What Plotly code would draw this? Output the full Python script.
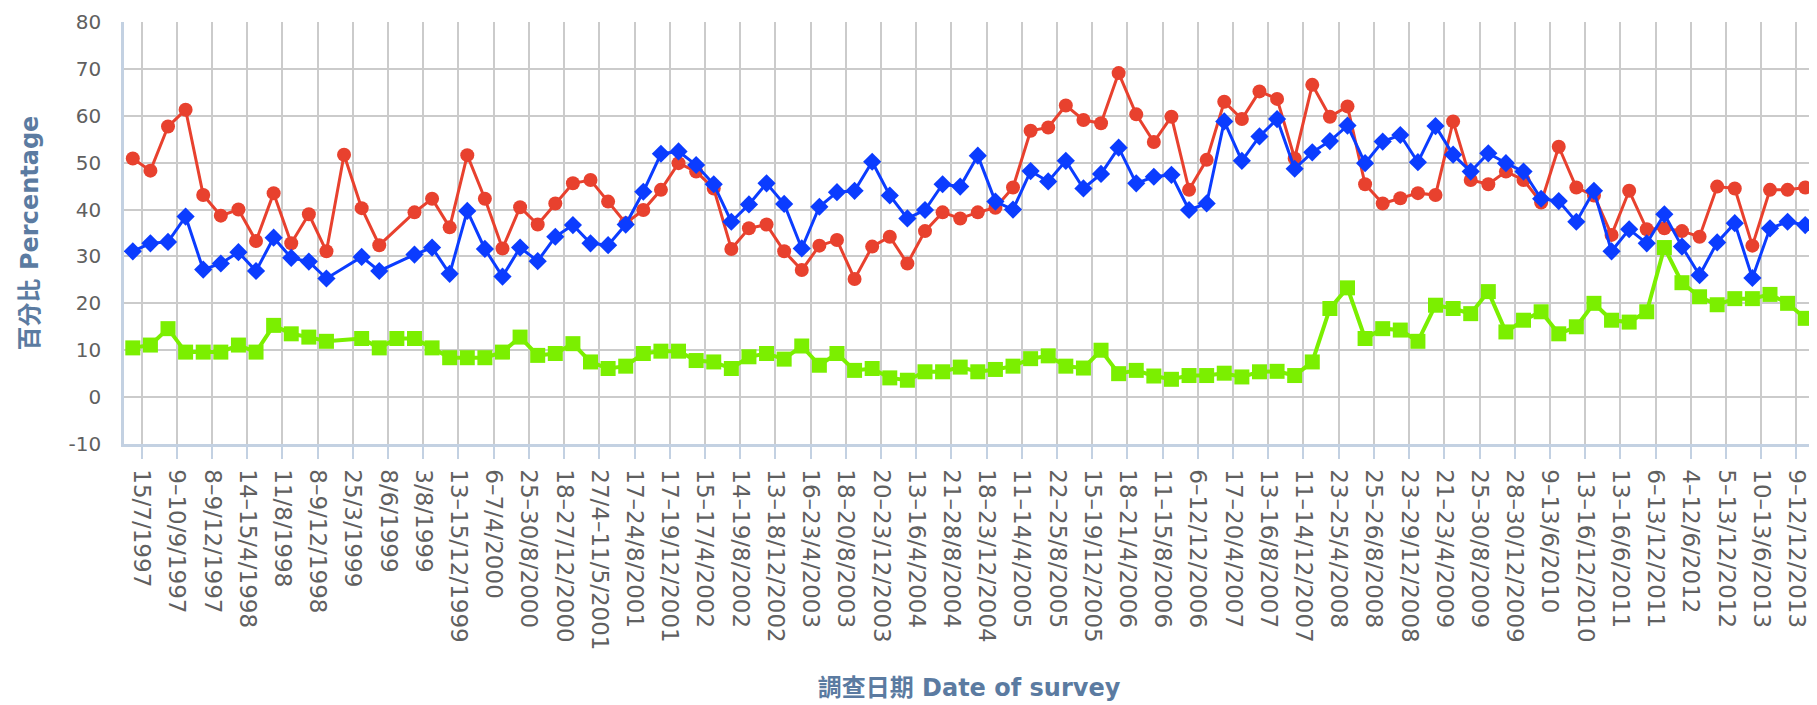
import plotly.graph_objects as go

# Survey dates shown on the axis (every other survey is labelled)
tick_labels = ["15/7/1997", "9–10/9/1997", "8–9/12/1997", "14–15/4/1998", "11/8/1998",
               "8–9/12/1998", "25/3/1999", "8/6/1999", "3/8/1999", "13–15/12/1999",
               "6–7/4/2000", "25–30/8/2000", "18–27/12/2000", "27/4–11/5/2001", "17–24/8/2001",
               "17–19/12/2001", "15–17/4/2002", "14–19/8/2002", "13–18/12/2002", "16–23/4/2003",
               "18–20/8/2003", "20–23/12/2003", "13–16/4/2004", "21–28/8/2004", "18–23/12/2004",
               "11–14/4/2005", "22–25/8/2005", "15–19/12/2005", "18–21/4/2006", "11–15/8/2006",
               "6–12/12/2006", "17–20/4/2007", "13–16/8/2007", "11–14/12/2007", "23–25/4/2008",
               "25–26/8/2008", "23–29/12/2008", "21–23/4/2009", "25–30/8/2009", "28–30/12/2009",
               "9–13/6/2010", "13–16/12/2010", "13–16/6/2011", "6–13/12/2011", "4–12/6/2012",
               "5–13/12/2012", "10–13/6/2013", "9–12/12/2013"]

y_tick_values = [-10, 0, 10, 20, 30, 40, 50, 60, 70, 80]
y_tick_labels = ["-10", "0", "10", "20", "30", "40", "50", "60", "70", "80"]

# Percentages per survey (None = not asked in that survey)
red_values = [50.9, 48.3, 57.7, 61.3, 43.1, 38.7, 40.0, 33.3, 43.5, 32.8,
              39.0, 31.1, 51.7, 40.3, 32.4, None, 39.4, 42.3, 36.2, 51.6,
              42.3, 31.7, 40.5, 36.8, 41.3, 45.6, 46.3, 41.7, 37.1, 39.9,
              44.2, 49.9, 48.1, 44.5, 31.6, 36.0, 36.8, 31.1, 27.1, 32.3,
              33.5, 25.2, 32.1, 34.2, 28.5, 35.4, 39.4, 38.1, 39.4, 40.4,
              44.7, 56.8, 57.5, 62.2, 59.1, 58.4, 69.1, 60.3, 54.4, 59.8,
              44.2, 50.6, 63.0, 59.3, 65.2, 63.6, 50.9, 66.6, 59.8, 62.0,
              45.4, 41.3, 42.4, 43.5, 43.1, 58.8, 46.3, 45.4, 48.1, 46.3,
              41.5, 53.4, 44.7, 43.0, 34.6, 44.0, 35.8, 36.0, 35.4, 34.2,
              44.9, 44.5, 32.3, 44.2, 44.2, 44.7]

blue_values = [31.1, 32.8, 33.1, 38.5, 27.2, 28.5, 30.9, 26.9, 34.0, 29.7,
               28.9, 25.3, None, 29.9, 26.9, None, 30.4, 31.9, 26.3, 39.7,
               31.6, 25.7, 31.9, 29.0, 34.2, 36.7, 32.8, 32.4, 36.8, 43.8,
               51.9, 52.4, 49.5, 45.4, 37.4, 41.1, 45.6, 41.2, 31.7, 40.6,
               43.7, 44.0, 50.2, 43.0, 38.1, 39.9, 45.4, 44.9, 51.5, 41.7,
               40.0, 48.2, 46.0, 50.4, 44.5, 47.6, 53.2, 45.6, 47.0, 47.4,
               39.9, 41.3, 58.8, 50.4, 55.6, 59.3, 48.7, 52.2, 54.6, 57.9,
               49.9, 54.5, 55.9, 50.1, 57.8, 51.7, 48.1, 52.0, 49.9, 48.1,
               42.3, 41.8, 37.4, 44.0, 31.1, 35.8, 32.8, 39.0, 32.1, 26.0,
               33.0, 37.1, 25.4, 36.0, 37.4, 36.7]

green_values = [10.5, 11.1, 14.6, 9.6, 9.6, 9.6, 11.1, 9.6, 15.3, 13.5,
                12.8, 11.9, None, 12.5, 10.5, 12.5, 12.5, 10.5, 8.4, 8.4,
                8.4, 9.6, 12.8, 8.9, 9.3, 11.4, 7.5, 6.1, 6.6, 9.3,
                9.8, 9.8, 7.8, 7.5, 6.1, 8.6, 9.3, 8.1, 10.9, 6.8,
                9.3, 5.7, 6.1, 4.1, 3.6, 5.4, 5.4, 6.4, 5.4, 5.9,
                6.6, 8.2, 8.8, 6.6, 6.2, 10.0, 5.0, 5.7, 4.5, 3.8,
                4.6, 4.6, 5.1, 4.3, 5.4, 5.5, 4.6, 7.5, 18.9, 23.3,
                12.5, 14.6, 14.3, 11.9, 19.6, 18.9, 17.8, 22.5, 13.9, 16.4,
                18.2, 13.5, 15.0, 20.0, 16.4, 16.0, 18.2, 31.9, 24.4, 21.4,
                19.7, 21.0, 21.0, 21.9, 20.0, 16.8]

survey_index = list(range(len(red_values)))
tick_positions = [2 * j + 0.5 for j in range(len(tick_labels))]

FONT = "DejaVu Sans, Noto Sans CJK TC, sans-serif"
TITLE_COLOR = "#5b7ba1"
LABEL_COLOR = "#606060"
GRID = "#cbcbcb"
AXIS = "#c3d1e2"

fig = go.Figure()
fig.add_trace(go.Scatter(x=survey_index, y=red_values, mode="lines+markers",
                         connectgaps=True, showlegend=False,
                         line=dict(color="#e8412e", width=3),
                         marker=dict(symbol="circle", size=14, color="#e8412e")))
fig.add_trace(go.Scatter(x=survey_index, y=blue_values, mode="lines+markers",
                         connectgaps=True, showlegend=False,
                         line=dict(color="#0b3cff", width=3),
                         marker=dict(symbol="diamond", size=14, color="#0b3cff")))
fig.add_trace(go.Scatter(x=survey_index, y=green_values, mode="lines+markers",
                         connectgaps=True, showlegend=False,
                         line=dict(color="#7bef00", width=4),
                         marker=dict(symbol="square", size=15, color="#7bef00")))

fig.update_layout(
    width=1817, height=705,
    margin=dict(l=116, r=11, t=14, b=269, autoexpand=False),
    paper_bgcolor="white", plot_bgcolor="white",
    font=dict(family=FONT, size=18, color=LABEL_COLOR),
    xaxis=dict(
        range=[-0.5, len(red_values) - 0.5],
        tickmode="array", tickvals=tick_positions, ticktext=tick_labels,
        tickangle=90, tickfont=dict(size=23, color=LABEL_COLOR, family=FONT),
        ticks="outside", ticklen=12, tickcolor=AXIS, tickwidth=1.5,
        ticklabelstandoff=6,
        showline=True, linecolor=AXIS, linewidth=2.5,
        showgrid=True, gridcolor=GRID, gridwidth=1.5, zeroline=False,
        automargin=False,
        title=dict(text="調查日期 Date of survey", standoff=30,
                   font=dict(size=24, color=TITLE_COLOR, family=FONT, weight="bold")),
    ),
    yaxis=dict(
        range=[-10, 80], tickmode="array", tickvals=y_tick_values, ticktext=y_tick_labels,
        tickfont=dict(size=20, color=LABEL_COLOR, family=FONT),
        ticks="", ticklabelstandoff=16,
        showline=True, linecolor=AXIS, linewidth=2.5,
        showgrid=True, gridcolor=GRID, gridwidth=1.5, zeroline=False,
        automargin=False,
        title=dict(text="百分比 Percentage", standoff=24,
                   font=dict(size=24, color=TITLE_COLOR, family=FONT, weight="bold")),
    ),
)

fig.write_html("out.html")
